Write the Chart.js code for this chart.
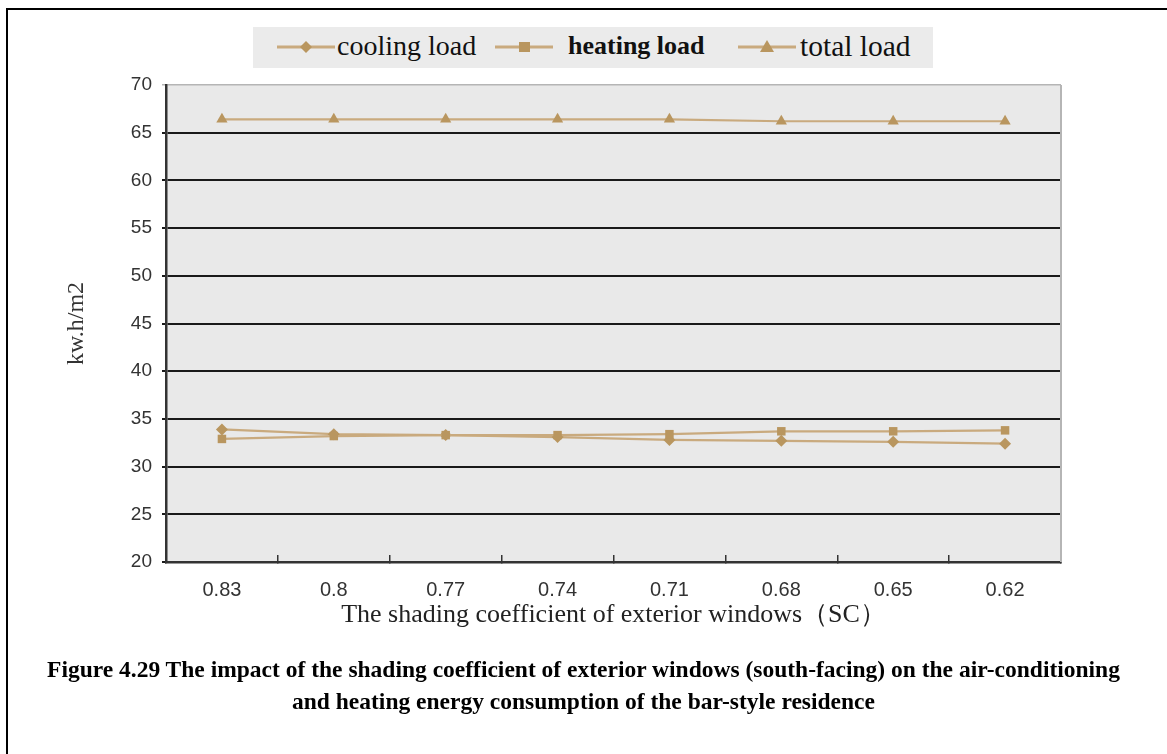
<!DOCTYPE html>
<html>
<head>
<meta charset="utf-8">
<script src="https://cdn.jsdelivr.net/npm/chart.js@4.4.0/dist/chart.umd.min.js"></script>
<style>
  html, body { margin:0; padding:0; background:#fff; }
  body { width:1167px; height:754px; position:relative; overflow:hidden; }
  #frame { position:absolute; left:6px; top:8px; width:1180px; height:770px; border-left:2.5px solid #000; border-top:2.5px solid #000; }
  #c { position:absolute; left:0; top:0; }
  #legend { position:absolute; left:253px; top:27px; width:680px; height:41px; background:#ebebeb; }
  .ltxt { position:absolute; top:2px; font-family:"Liberation Serif","Times New Roman",serif; color:#111; white-space:nowrap; line-height:34px; }
  #caption { position:absolute; left:0; width:1167px; top:653px; text-align:center; font-family:"Liberation Serif","Times New Roman",serif; font-weight:bold; font-size:23.5px; line-height:32px; color:#000; }
</style>
</head>
<body>
<div id="frame"></div>
<canvas id="c" width="1167" height="754"></canvas>
<div id="legend"></div>
<div id="caption"></div>
<script>
const categories = ['0.83','0.8','0.77','0.74','0.71','0.68','0.65','0.62'];
const coolingLoad = [33.9, 33.4, 33.3, 33.1, 32.8, 32.7, 32.6, 32.4];
const heatingLoad = [32.9, 33.2, 33.3, 33.3, 33.4, 33.7, 33.7, 33.8];
const totalLoad   = [66.4, 66.4, 66.4, 66.4, 66.4, 66.2, 66.2, 66.2];
const seriesNames = ['cooling load', 'heating load', 'total load'];
const yMin = 20, yMax = 70, yStep = 5;
const yTitle = 'kw.h/m2';
const xTitle = 'The shading coefficient of exterior windows（SC）';
const captionLines = [
  'Figure 4.29 The impact of the shading coefficient of exterior windows (south-facing) on the air-conditioning',
  'and heating energy consumption of the bar-style residence'
];

const lineColor = '#c9aa7e';
const markerColor = '#b9965f';

// legend (HTML)
const legendItems = [
  {name: seriesNames[0], shape: 'diamond', lineX: 24, txtX: 84, bold: false, size: 28},
  {name: seriesNames[1], shape: 'square', lineX: 242, txtX: 315, bold: true, size: 26},
  {name: seriesNames[2], shape: 'triangle', lineX: 485, txtX: 547, bold: false, size: 29.5}
];
function markerSvg(shape){
  if (shape==='diamond') return '<polygon points="29,14 35,20 29,26 23,20" fill="'+markerColor+'"/>';
  if (shape==='square') return '<rect x="24" y="15" width="11" height="10" fill="'+markerColor+'"/>';
  return '<polygon points="29,13 36,25 22,25" fill="'+markerColor+'"/>';
}
const leg = document.getElementById('legend');
legendItems.forEach(it => {
  const svg = document.createElementNS('http://www.w3.org/2000/svg','svg');
  svg.setAttribute('width','60'); svg.setAttribute('height','41');
  svg.style.position='absolute'; svg.style.left=it.lineX+'px'; svg.style.top='0px';
  svg.innerHTML = '<line x1="0" y1="20" x2="58" y2="20" stroke="'+lineColor+'" stroke-width="3"/>' + markerSvg(it.shape);
  leg.appendChild(svg);
  const t = document.createElement('div');
  t.className='ltxt'; t.textContent = it.name; t.style.left = it.txtX+'px';
  t.style.fontSize = it.size+'px';
  if (it.bold) t.style.fontWeight='bold';
  leg.appendChild(t);
});
document.getElementById('caption').innerHTML = captionLines.map(s=>'<div>'+s+'</div>').join('');

const plotDecor = {
  id: 'plotDecor',
  beforeDraw(chart){
    const {ctx, chartArea:a} = chart;
    ctx.save();
    ctx.fillStyle = '#e9e9e9';
    ctx.fillRect(a.left, a.top, a.right-a.left, a.bottom-a.top);
    ctx.restore();
  },
  beforeDatasetsDraw(chart){
    const {ctx, chartArea:a} = chart;
    ctx.save();
    ctx.strokeStyle = '#b5b5b5';
    ctx.lineWidth = 2;
    ctx.beginPath(); ctx.moveTo(a.right, a.top); ctx.lineTo(a.right, a.bottom); ctx.stroke();
    ctx.restore();
  }
};

const mk = (label, data, style, radius) => ({
  label, data,
  borderColor: lineColor, borderWidth: 2.2,
  pointStyle: style, pointRadius: radius, pointBorderWidth: 0,
  pointBackgroundColor: markerColor, pointBorderColor: markerColor,
  tension: 0, fill: false
});

new Chart(document.getElementById('c'), {
  type: 'line',
  data: {
    labels: categories,
    datasets: [
      mk(seriesNames[2], totalLoad, 'triangle', 6.5),
      mk(seriesNames[1], heatingLoad, 'rect', 6),
      mk(seriesNames[0], coolingLoad, 'rectRot', 6)
    ]
  },
  plugins: [plotDecor],
  options: {
    responsive: false,
    devicePixelRatio: 1,
    animation: false,
    layout: { padding: { left: 60, top: 85, right: 106, bottom: 122 } },
    plugins: { legend: { display: false }, tooltip: { enabled: false } },
    scales: {
      x: {
        type: 'category',
        offset: true,
        afterFit(s){ s.height = 70; },
        grid: { offset: true, drawOnChartArea: false, drawTicks: true, tickLength: -7, color: '#333', lineWidth: 1.5 },
        border: { display: true, color: '#333', width: 2.5 },
        ticks: { color: '#333', padding: 23, font: { family: '"Liberation Sans Narrow","Liberation Sans",Arial,sans-serif', size: 20 } },
        title: { display: true, text: xTitle, color: '#222', font: { family: '"Liberation Serif","Times New Roman",serif', size: 26 }, padding: { top: 4, bottom: 1 } }
      },
      y: {
        min: yMin, max: yMax,
        afterFit(s){ s.width = 106; },
        ticks: { stepSize: yStep, color: '#333', padding: 10, font: { family: '"Liberation Sans",Arial,sans-serif', size: 19 } },
        grid: {
          color: c => (c.tick && c.tick.value === yMax) ? '#b5b5b5' : '#1a1a1a',
          lineWidth: c => (c.tick && c.tick.value === yMax) ? 1.5 : 2,
          drawTicks: true, tickLength: 4
        },
        border: { display: true, color: '#333', width: 2.5 },
        title: { display: true, text: yTitle, color: '#333', font: { family: '"Liberation Serif","Times New Roman",serif', size: 24 }, padding: { top: 2, bottom: 4 } }
      }
    }
  }
});
</script>
</body>
</html>
